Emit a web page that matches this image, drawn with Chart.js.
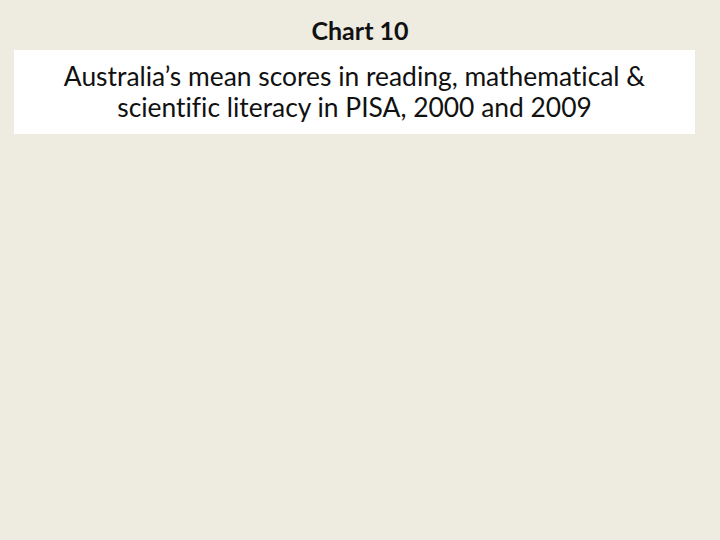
<!DOCTYPE html>
<html>
<head>
<meta charset="utf-8">
<script src="https://cdn.jsdelivr.net/npm/chart.js@4/dist/chart.umd.min.js"></script>
<style>
    html, body { margin: 0; padding: 0; }
    body {
        width: 720px;
        height: 540px;
        background: #eeebe0;
        font-family: Lato, "Open Sans", sans-serif;
        font-variant-ligatures: none;
        color: #111;
        overflow: hidden;
        position: relative;
    }
    #heading {
        position: absolute;
        top: 15px;
        left: 0;
        width: 720px;
        text-align: center;
        font-weight: bold;
        font-size: 25px;
        line-height: 30px;
    }
    #subbox {
        position: absolute;
        top: 50px;
        left: 14px;
        width: 681px;
        height: 84px;
        background: #fff;
        text-align: center;
        font-size: 26.4px;
        line-height: 31px;
    }
    #subbox div { padding-top: 11px; }
    #chartwrap {
        position: absolute;
        top: 140px;
        left: 14px;
        width: 681px;
        height: 390px;
    }
</style>
</head>
<body>
<div id="heading">Chart 10</div>
<div id="subbox"><div>Australia’s mean scores in reading, mathematical &amp;<br>scientific literacy in PISA, 2000 and 2009</div></div>
<div id="chartwrap"><canvas id="myChart"></canvas></div>
<script>
// nothing is plotted in the reference picture: the chart area is blank
let categories = [];
let scores2000 = [];
let scores2009 = [];

function chart() {
    let ctx = document.getElementById('myChart');
    let myChart = new Chart(ctx, {
        type: 'bar',
        data: {
            labels: categories,
            datasets: [{
                label: '2000',
                data: scores2000,
                backgroundColor: "#4f81bd"
            }, {
                label: '2009',
                data: scores2009,
                backgroundColor: "#c0504d"
            }]
        },
        options: {
            responsive: true,
            maintainAspectRatio: false,
            animation: false,
            plugins: {
                legend: { display: false },
                tooltip: { enabled: false }
            },
            scales: {
                x: { display: false },
                y: { display: false }
            }
        }
    });
}
chart();
</script>
</body>
</html>
